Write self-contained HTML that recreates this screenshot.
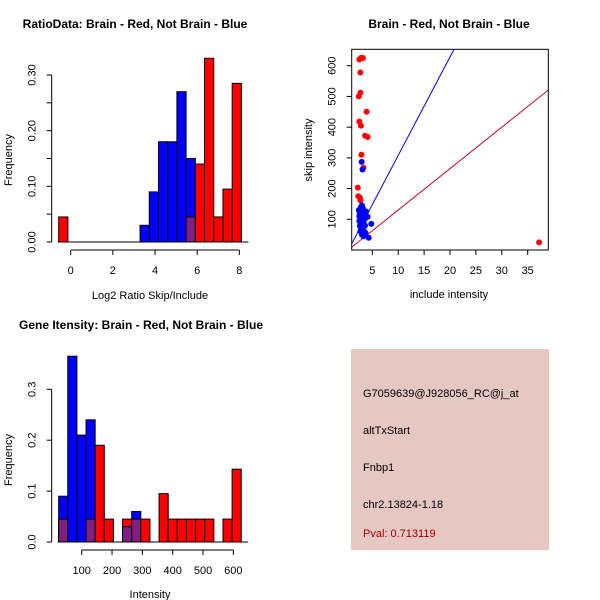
<!DOCTYPE html>
<html><head><meta charset="utf-8"><style>
body{margin:0;background:#fff}
svg{display:block;font-family:"Liberation Sans",sans-serif}
text{fill:#000}
</style></head><body>
<svg id="s" width="600" height="600">
<text x="135" y="28" text-anchor="middle" font-size="12" font-weight="bold">RatioData: Brain - Red, Not Brain - Blue</text>
<text x="449" y="28" text-anchor="middle" font-size="12" font-weight="bold">Brain - Red, Not Brain - Blue</text>
<text x="141" y="329" text-anchor="middle" font-size="12" font-weight="bold">Gene Itensity: Brain - Red, Not Brain - Blue</text>
<text x="150" y="299" text-anchor="middle" font-size="11">Log2 Ratio Skip/Include</text>
<text transform="translate(12,160) rotate(-90)" text-anchor="middle" font-size="11">Frequency</text>
<text x="449" y="298" text-anchor="middle" font-size="11">include intensity</text>
<text transform="translate(312,150) rotate(-90)" text-anchor="middle" font-size="11">skip intensity</text>
<text x="150" y="598" text-anchor="middle" font-size="11">Intensity</text>
<text transform="translate(12,460) rotate(-90)" text-anchor="middle" font-size="11">Frequency</text>
<rect x="351" y="349" width="198" height="201" fill="#e6c8c2"/>
<text x="363" y="397" font-size="11">G7059639@J928056_RC@j_at</text>
<text x="363" y="434" font-size="11">altTxStart</text>
<text x="363" y="471" font-size="11">Fnbp1</text>
<text x="363" y="508" font-size="11">chr2.13824-1.18</text>
<text x="363" y="537" font-size="11" fill="#a00000" style="fill:#a00000">Pval: 0.713119</text>
</svg>
<script>
// Ratio histogram data
const ratioBlueStart=3.29, ratioBinW=0.437;
const ratioBlue=[0.03,0.09,0.18,0.18,0.27,0.15,0,0,0,0,0];
const ratioRed=[0,0,0,0,0,0.045,0.14,0.33,0.045,0.095,0.285];
const ratioRedOutlierStart=-0.57, ratioRedOutlier=0.045;
const ratioYTicks=[0,0.05,0.10,0.15,0.20,0.25,0.30];
const ratioYLabels=["0.00","","0.10","","0.20","","0.30"];
const ratioXTicks=[0,2,4,6,8];
// Intensity histogram data
const intStart=24, intBinW=30.1;
const intBlue=[0.09,0.365,0.21,0.24,0,0,0,0.03,0.06,0,0,0,0,0,0,0,0,0,0,0];
const intRed=[0.045,0,0,0.045,0.19,0.045,0,0.045,0.045,0.045,0,0.095,0.045,0.045,0.045,0.045,0.045,0,0.045,0.143];
const intYTicks=[0,0.1,0.2,0.3];
const intYLabels=["0.0","0.1","0.2","0.3"];
const intXTicks=[100,200,300,400,500,600];
// Scatter data
const redX=[2.5,2.8,3.2,2.7,2.4,2.7,3.9,2.5,2.8,3.6,4.1,2.9,3.3,2.2,2.3,2.6,2.7,37.2];
const redY=[620,625,625,578,500,512,450,418,405,372,368,310,268,203,175,170,162,25];
const blueX=[2.95,3.1,2.4,2.6,2.8,3.0,3.2,3.3,2.5,2.9,3.4,3.6,3.8,4.1,2.5,2.7,3.0,3.3,3.6,4.8,2.6,2.9,3.2,3.5,2.7,3.0,3.3,3.7,4.3,2.8,3.1,3.5];
const blueY=[287,262,130,120,140,145,135,125,110,105,110,120,125,108,95,90,88,92,80,85,78,70,65,60,62,50,45,55,40,100,115,100];
const blueLine=[[1.0,19.6],[20.77,653]];
const redLine=[[1.0,8.9],[39.0,521]];
const scXTicks=[5,10,15,20,25,30,35];
const scYTicks=[100,200,300,400,500,600];

const NS="http://www.w3.org/2000/svg", svg=document.getElementById('s');
function mk(t,a){const e=document.createElementNS(NS,t);for(const k in a)e.setAttribute(k,a[k]);svg.appendChild(e);return e;}
const PURPLE="#7f1f80";

const rx=v=>70.7+(v-0)*21.08, ry=v=>242-v*556.7;
function hbar(x0,x1,h,col,yf,name){if(h<=0)return;const r=mk('rect',{x:x0,y:yf(h),width:x1-x0,height:yf(0)-yf(h),fill:col,stroke:'#000','stroke-width':1});

}
for(let i=0;i<ratioBlue.length;i++){const a=rx(ratioBlueStart+i*ratioBinW),b=rx(ratioBlueStart+(i+1)*ratioBinW);
 hbar(a,b,ratioRed[i],'#ff0000',ry,'ratio-red-bar');hbar(a,b,ratioBlue[i],'#0000ff',ry,'ratio-blue-bar');
 hbar(a,b,Math.min(ratioRed[i],ratioBlue[i]),PURPLE,ry,'ratio-overlap-bar');}
hbar(rx(ratioRedOutlierStart),rx(ratioRedOutlierStart+ratioBinW),ratioRedOutlier,'#ff0000',ry,'ratio-red-bar');
mk('line',{x1:rx(ratioRedOutlierStart)-1,x2:rx(8.1)+7,y1:242,y2:242,stroke:'#000'});
function yaxis(x,ticks,labels,yf,name){let l=mk('line',{x1:x,x2:x,y1:yf(ticks[0]),y2:yf(ticks[ticks.length-1]),stroke:'#000'});
 
 
 ticks.forEach((t,i)=>{mk('line',{x1:x-5,x2:x,y1:yf(t),y2:yf(t),stroke:'#000'});
 if(labels[i]){const tx=mk('text',{transform:`translate(${x-16},${yf(t)}) rotate(-90)`,'text-anchor':'middle','font-size':11});tx.textContent=labels[i];
 
 }});}
function xaxis(y,ticks,xf,name){let l=mk('line',{x1:xf(ticks[0]),x2:xf(ticks[ticks.length-1]),y1:y,y2:y,stroke:'#000'});
 
 
 ticks.forEach(t=>{mk('line',{x1:xf(t),x2:xf(t),y1:y,y2:y+5,stroke:'#000'});
 const tx=mk('text',{x:xf(t),y:y+24,'text-anchor':'middle','font-size':11});tx.textContent=t;
 
 });}
yaxis(51.7,ratioYTicks,ratioYLabels,ry,'ratio-y-axis');
xaxis(250,ratioXTicks,rx,'ratio-x-axis');

const ix=v=>81.7+(v-100)*0.3033, iy=v=>542-v*509;
for(let i=0;i<intBlue.length;i++){const a=ix(intStart+i*intBinW),b=ix(intStart+(i+1)*intBinW);
 hbar(a,b,intRed[i],'#ff0000',iy,'intensity-red-bar');hbar(a,b,intBlue[i],'#0000ff',iy,'intensity-blue-bar');
 hbar(a,b,Math.min(intRed[i],intBlue[i]),PURPLE,iy,'intensity-overlap-bar');}
mk('line',{x1:ix(intStart)-1,x2:ix(intStart+20*intBinW)+7,y1:542,y2:542,stroke:'#000'});
yaxis(51.7,intYTicks,intYLabels,iy,'intensity-y-axis');
xaxis(550,intXTicks,ix,'intensity-x-axis');

const sx=v=>372.3+(v-5)*5.18, sy=v=>219.3-(v-100)*0.3072;
const clip=mk('clipPath',{id:'c'});const cr=document.createElementNS(NS,'rect');
cr.setAttribute('x',351.7);cr.setAttribute('y',49.3);cr.setAttribute('width',196.6);cr.setAttribute('height',200.7);clip.appendChild(cr);
const g=mk('g',{'clip-path':'url(#c)'});
function ln(p,col,name){const e=document.createElementNS(NS,'line');e.setAttribute('x1',sx(p[0][0]));e.setAttribute('y1',sy(p[0][1]));e.setAttribute('x2',sx(p[1][0]));e.setAttribute('y2',sy(p[1][1]));e.setAttribute('stroke',col);
 
 
 g.appendChild(e);}
ln(blueLine,'#0000c0','blue-fit-line');ln(redLine,'#c00020','red-fit-line');
redX.forEach((v,i)=>{const c=mk('circle',{cx:sx(v),cy:sy(redY[i]),r:3,fill:'#ff0000'});
 
 });
blueX.forEach((v,i)=>{const c=mk('circle',{cx:sx(v),cy:sy(blueY[i]),r:3,fill:'#0000ff'});
 
 });
const box=mk('rect',{x:351.7,y:49.3,width:196.6,height:200.7,fill:'none',stroke:'#000'});


scXTicks.forEach(t=>{mk('line',{x1:sx(t),x2:sx(t),y1:250,y2:255,stroke:'#000'});const tx=mk('text',{x:sx(t),y:274,'text-anchor':'middle','font-size':11});tx.textContent=t;
 
 });
scYTicks.forEach(t=>{mk('line',{x1:346.7,x2:351.7,y1:sy(t),y2:sy(t),stroke:'#000'});const tx=mk('text',{transform:`translate(${335.7},${sy(t)}) rotate(-90)`,'text-anchor':'middle','font-size':11});tx.textContent=t;
 
 });
</script>
</body></html>
